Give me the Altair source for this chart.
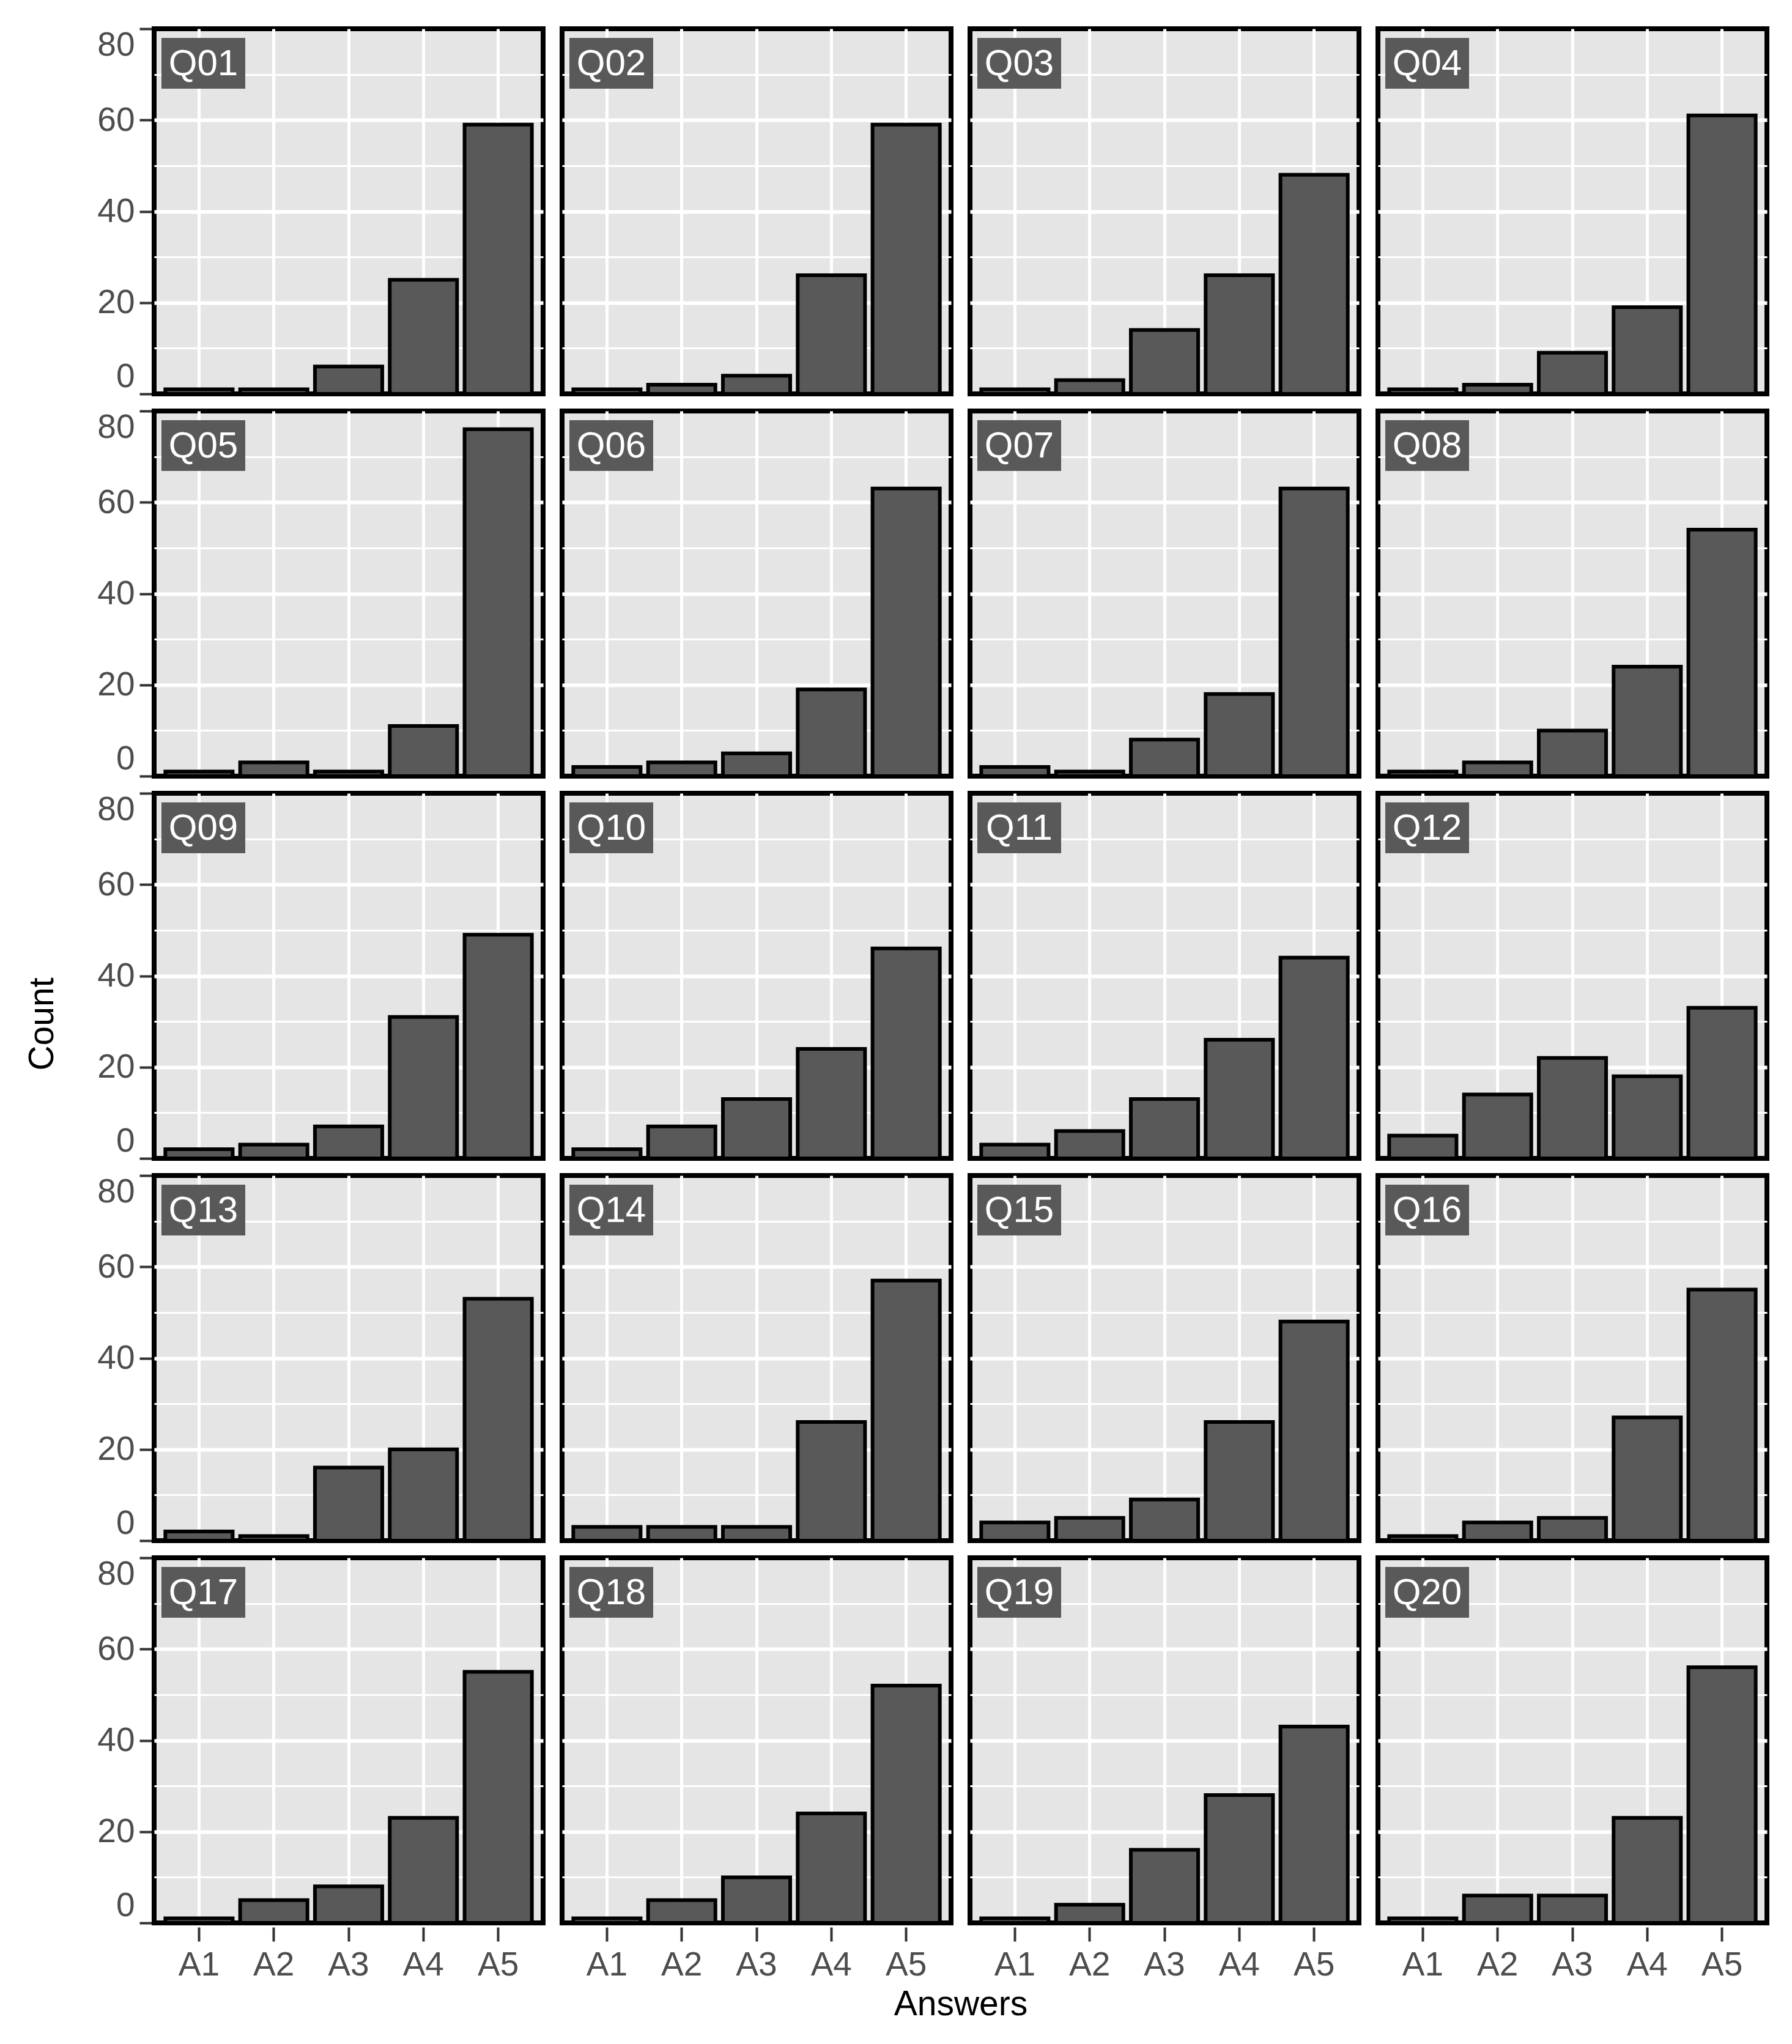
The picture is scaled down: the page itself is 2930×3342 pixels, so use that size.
import altair as alt
import pandas as pd

questions = ["Q01", "Q02", "Q03", "Q04", "Q05", "Q06", "Q07", "Q08", "Q09", "Q10",
             "Q11", "Q12", "Q13", "Q14", "Q15", "Q16", "Q17", "Q18", "Q19", "Q20"]
answers = ["A1", "A2", "A3", "A4", "A5"]

a1 = [1, 1, 1, 1, 1, 2, 2, 1, 2, 2, 3, 5, 2, 3, 4, 1, 1, 1, 1, 1]
a2 = [1, 2, 3, 2, 3, 3, 1, 3, 3, 7, 6, 14, 1, 3, 5, 4, 5, 5, 4, 6]
a3 = [6, 4, 14, 9, 1, 5, 8, 10, 7, 13, 13, 22, 16, 3, 9, 5, 8, 10, 16, 6]
a4 = [25, 26, 26, 19, 11, 19, 18, 24, 31, 24, 26, 18, 20, 26, 26, 27, 23, 24, 28, 23]
a5 = [59, 59, 48, 61, 76, 63, 63, 54, 49, 46, 44, 33, 53, 57, 48, 55, 55, 52, 43, 56]

series = {"A1": a1, "A2": a2, "A3": a3, "A4": a4, "A5": a5}
rows = []
for qi, q in enumerate(questions):
    for a in answers:
        rows.append({"Question": q, "Answer": a, "Count": series[a][qi]})
df = pd.DataFrame(rows)

FONT = "Liberation Sans"
W, H = 636, 597

bars = alt.Chart().mark_bar(
    fill="#595959", stroke="black", strokeWidth=6
).encode(
    x=alt.X(
        "Answer:N", sort=answers, title=None,
        scale=alt.Scale(paddingInner=0.1, paddingOuter=0.15),
        axis=alt.Axis(
            labelAngle=0, labelFontSize=55, labelColor="#4D4D4D", labelFont=FONT,
            labelPadding=12, tickSize=23, tickWidth=4, tickColor="#333333",
            domain=False, grid=True, gridColor="white", gridWidth=5,
        ),
    ),
    y=alt.Y(
        "Count:Q", title=None,
        scale=alt.Scale(domain=[0, 80], nice=False, zero=True),
        axis=alt.Axis(
            values=[0, 10, 20, 30, 40, 50, 60, 70, 80],
            labelExpr="datum.value % 20 == 0 ? datum.label : ''",
            labelFontSize=55, labelColor="#4D4D4D", labelFont=FONT,
            labelPadding=8, labelFlush=True, tickSize=20, tickWidth=4,
            tickColor="#333333",
            tickOpacity={"condition": {"test": "datum.value % 20 == 0", "value": 1}, "value": 0},
            domain=False, grid=True, gridColor="white",
            gridWidth={"condition": {"test": "datum.value % 20 == 0", "value": 6}, "value": 3},
            gridOpacity={"condition": {"test": "datum.value == 0 || datum.value == 80", "value": 0}, "value": 1},
        ),
    ),
)

box = alt.Chart().mark_rect(fill="#595959").encode(
    x=alt.value(12), x2=alt.value(149), y=alt.value(15), y2=alt.value(98)
).transform_filter("datum.Answer == 'A1'")

label = alt.Chart().mark_text(
    color="white", fontSize=60, font=FONT, align="center", baseline="middle"
).encode(
    x=alt.value(80.5), y=alt.value(58), text="Question:N"
).transform_filter("datum.Answer == 'A1'")

chart = alt.layer(bars, box, label, data=df).properties(
    width=W, height=H
).facet(
    facet=alt.Facet(
        "Question:N", sort=questions, title="Answers",
        header=alt.Header(
            labels=False, labelFontSize=0, labelPadding=0,
            title="Answers", titleOrient="bottom", titleFontSize=57,
            titleFont=FONT, titleColor="black", titleFontWeight="normal",
            titlePadding=10,
        ),
    ),
    columns=4,
    spacing={"row": 17, "column": 23},
).properties(
    title=alt.TitleParams(
        "Count", orient="left", anchor="middle", fontSize=57, font=FONT,
        fontWeight="normal", color="black", offset=60,
    )
).configure(
    background="white",
    padding={"left": 32, "top": 35, "right": 5, "bottom": 5},
    view=alt.ViewConfig(stroke="black", strokeWidth=8, fill="#E5E5E5"),
    header=alt.HeaderConfig(labels=False),
)

chart.save("out.html", embed_options={"renderer": "svg", "actions": False})
